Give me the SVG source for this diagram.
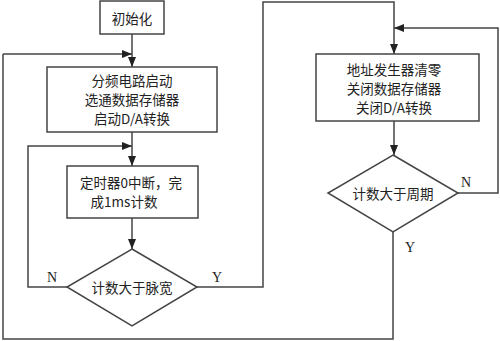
<svg xmlns="http://www.w3.org/2000/svg" width="500" height="341" viewBox="0 0 500 341">
<defs>
<marker id="ah" markerWidth="10" markerHeight="8" refX="10" refY="4" orient="auto" markerUnits="userSpaceOnUse">
<path d="M0,0 L10,4 L0,8 Z" fill="#222"/>
</marker>
<style>
.box{fill:#fff;stroke:#444;stroke-width:1.5}
.ln{fill:none;stroke:#444;stroke-width:1.5}
.t{font-family:"Noto Sans CJK SC","Liberation Sans",sans-serif;font-size:13.5px;fill:#222;text-anchor:middle;dominant-baseline:central}
.l{font-family:"Liberation Serif",serif;font-size:14px;fill:#222;text-anchor:middle;dominant-baseline:central}
</style>
</defs>
<rect width="500" height="341" fill="#fff"/>
<g id="connectors">
<path class="ln" d="M132,34 V67" marker-end="url(#ah)"/>
<path class="ln" d="M3,54 H132" marker-end="url(#ah)"/>
<path class="ln" d="M132,132 V166" marker-end="url(#ah)"/>
<path class="ln" d="M67,287 H28 V146 H132" marker-end="url(#ah)"/>
<path class="ln" d="M132,218 V249" marker-end="url(#ah)"/>
<path class="ln" d="M197,287 H263 V2 H394 V54" marker-end="url(#ah)"/>
<path class="ln" d="M394,121 V155" marker-end="url(#ah)"/>
<path class="ln" d="M458,193 H498 V28 H394" marker-end="url(#ah)"/>
<path class="ln" d="M393,232 V339 H3 V54"/>
<text class="l" x="52" y="277">N</text>
<text class="l" x="217" y="277">Y</text>
<text class="l" x="466" y="182">N</text>
<text class="l" x="410" y="247">Y</text>
</g>
<g id="init">
<rect class="box" x="100" y="1" width="64" height="33"/>
<text class="t" x="132" y="18">初始化</text>
</g>
<g id="start">
<rect class="box" x="47" y="67" width="170" height="65"/>
<text class="t" x="132" y="80">分频电路启动</text>
<text class="t" x="132" y="99">选通数据存储器</text>
<text class="t" x="132" y="118">启动D/A转换</text>
</g>
<g id="timer">
<rect class="box" x="67" y="166" width="131" height="52"/>
<text class="t" x="131" y="182">定时器0中断，完</text>
<text class="t" x="124" y="201">成1ms计数</text>
</g>
<g id="cmp1">
<polygon class="box" points="132,249 197,287 132,326 67,287"/>
<text class="t" x="132" y="287">计数大于脉宽</text>
</g>
<g id="reset">
<rect class="box" x="316" y="54" width="163" height="67"/>
<text class="t" x="394" y="69">地址发生器清零</text>
<text class="t" x="394" y="88">关闭数据存储器</text>
<text class="t" x="394" y="107">关闭D/A转换</text>
</g>
<g id="cmp2">
<polygon class="box" points="393,155 458,193 393,232 328,193"/>
<text class="t" x="393" y="193">计数大于周期</text>
</g>
</svg>
